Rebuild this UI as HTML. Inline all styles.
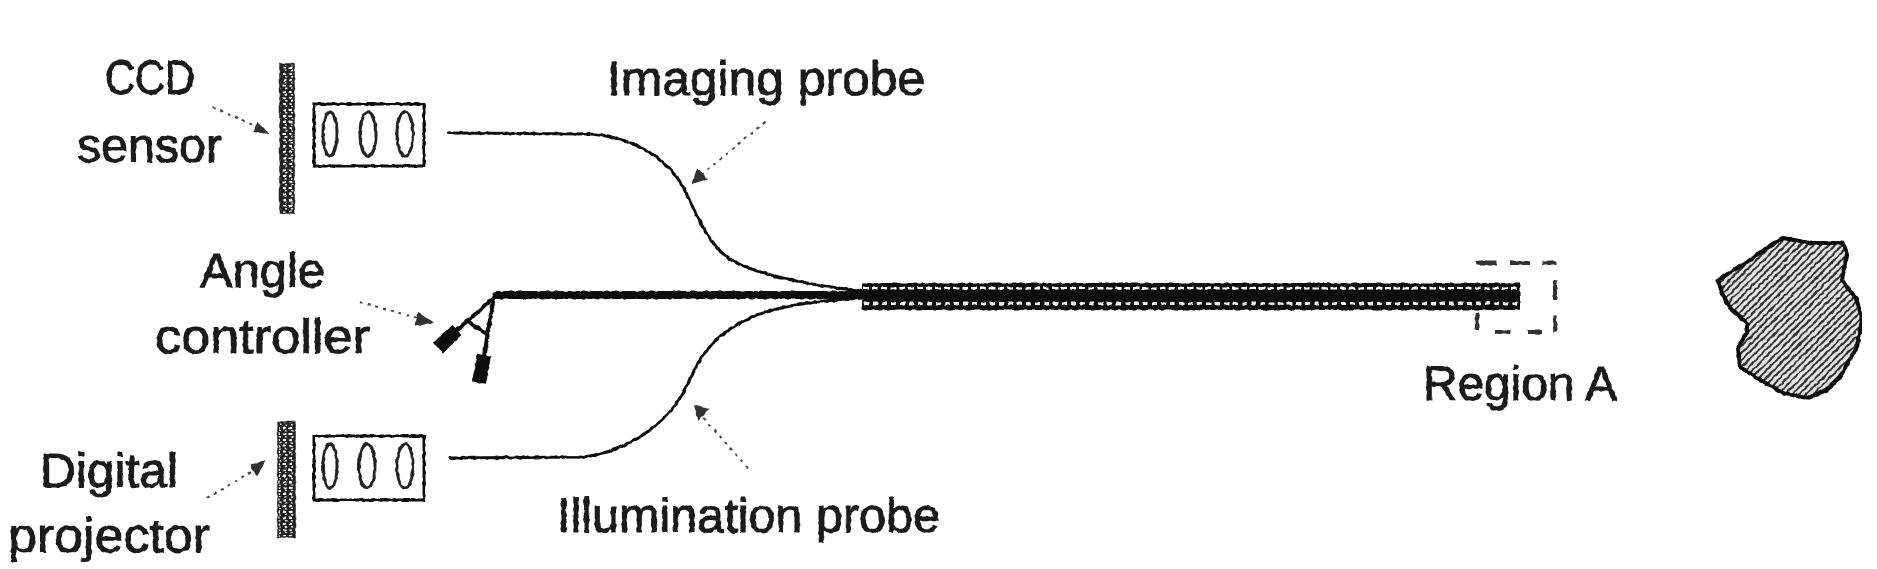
<!DOCTYPE html>
<html><head><meta charset="utf-8"><style>
html,body{margin:0;padding:0;background:#fff}
svg{display:block}
text{font-family:"Liberation Sans",sans-serif;font-size:48px;fill:#1a1a1a;stroke:#1a1a1a;stroke-width:.9}
.l{fill:none;stroke:#111;stroke-linejoin:round;stroke-linecap:round}
.d{fill:none;stroke:#444;stroke-width:2;stroke-dasharray:3 5}
.r{fill:none;stroke:#333;stroke-width:4}
</style></head><body>
<svg width="1877" height="569" viewBox="0 0 1877 569" xmlns="http://www.w3.org/2000/svg">
<defs>
<filter id="w" x="0" y="0" width="100%" height="100%"><feTurbulence type="fractalNoise" baseFrequency="0.22" numOctaves="1" seed="4" result="n"/><feDisplacementMap in="SourceGraphic" in2="n" scale="3" xChannelSelector="R" yChannelSelector="G"/></filter>
<pattern id="h1" width="6" height="6" patternUnits="userSpaceOnUse"><rect width="6" height="6" fill="#222"/><rect x="1" y="1" width="3" height="2" fill="#fff"/><rect x="3" y="4" width="2" height="1.5" fill="#ddd"/></pattern>
<pattern id="h2" width="5" height="5" patternUnits="userSpaceOnUse" patternTransform="rotate(45)"><rect width="5" height="5" fill="#e4e4e4"/><rect width="2" height="5" fill="#333"/></pattern>
<pattern id="b" width="9" height="27" patternUnits="userSpaceOnUse" x="862" y="283"><rect width="9" height="27" fill="#111"/><rect x="1" y="4" width="6" height="2.5" fill="#fff"/><rect x="2" y="19" width="5" height="3" fill="#eee"/></pattern>
</defs>
<g filter="url(#w)">
<text x="105" y="94" textLength="90" lengthAdjust="spacingAndGlyphs">CCD</text>
<text x="77" y="162" textLength="145" lengthAdjust="spacingAndGlyphs">sensor</text>
<text x="200" y="287" textLength="125" lengthAdjust="spacingAndGlyphs">Angle</text>
<text x="155" y="353" textLength="215" lengthAdjust="spacingAndGlyphs">controller</text>
<text x="40" y="487" textLength="138" lengthAdjust="spacingAndGlyphs">Digital</text>
<text x="8" y="552" textLength="202" lengthAdjust="spacingAndGlyphs">projector</text>
<text x="607" y="95" textLength="318" lengthAdjust="spacingAndGlyphs">Imaging probe</text>
<text x="557" y="532" textLength="383" lengthAdjust="spacingAndGlyphs">Illumination probe</text>
<text x="1423" y="400" textLength="194" lengthAdjust="spacingAndGlyphs">Region A</text>

<rect x="280" y="64" width="14" height="149" fill="url(#h1)" stroke="#222" stroke-width="1.5"/>
<rect x="278" y="422" width="17" height="115" fill="url(#h1)" stroke="#222" stroke-width="1.5"/>

<rect x="314" y="104" width="110" height="62" fill="#fff" stroke="#111" stroke-width="3"/>
<ellipse cx="330" cy="134" rx="7" ry="22" fill="none" stroke="#222" stroke-width="3"/>
<ellipse cx="368" cy="134" rx="8" ry="22" fill="none" stroke="#222" stroke-width="3"/>
<ellipse cx="405" cy="134" rx="8" ry="22" fill="none" stroke="#222" stroke-width="3"/>

<rect x="314" y="436" width="110" height="64" fill="#fff" stroke="#111" stroke-width="3"/>
<ellipse cx="330" cy="466" rx="7" ry="22" fill="none" stroke="#222" stroke-width="3"/>
<ellipse cx="367" cy="466" rx="8" ry="22" fill="none" stroke="#222" stroke-width="3"/>
<ellipse cx="405" cy="466" rx="8" ry="22" fill="none" stroke="#222" stroke-width="3"/>

<path class="l" stroke-width="3" d="M449 133 L590 134 C630 137 665 155 683 187 C695 210 705 240 727 257 C745 270 790 283 862 291"/>
<path class="l" stroke-width="3" d="M450 458 L583 457 C620 452 650 435 673 408 C685 393 690 378 697 365 C708 345 725 328 757 315 C785 305 815 301 862 298"/>

<path class="l" stroke-width="8" d="M497 295 L862 295"/>
<rect x="862" y="283" width="658" height="27" fill="url(#b)"/>
<rect x="862" y="293" width="658" height="8" fill="#111"/>

<path class="l" stroke-width="4" d="M497 295 L440 345 M493 302 L480 380 M470 323 L486 333"/>
<path stroke="#111" fill="none" stroke-width="14" d="M457 330 L438 348"/>
<path stroke="#111" fill="none" stroke-width="14" d="M484 355 L479 383"/>

<path class="r" d="M1476 263 H1497 M1510 263 H1530 M1542 263 H1556 M1555 280 V300 M1555 315 V332 M1495 332 H1510 M1528 332 H1542 M1477 313 V330"/>

<path d="M1718 280 L1747 262 L1767 248 L1783 238 L1810 243 L1843 243 L1847 253 L1842 280 L1857 300 L1862 320 L1857 347 L1840 377 L1827 390 L1807 398 L1783 393 L1757 378 L1740 367 L1738 347 L1747 333 L1747 323 L1730 308 L1722 293 Z" fill="url(#h2)" stroke="#111" stroke-width="4" stroke-linejoin="round"/>

<path class="d" d="M213 107 L262 129"/><path d="M257 122 L270 134 L253 132 Z" fill="#333"/>
<path class="d" d="M360 302 L425 320"/><path d="M418 312 L434 323 L415 326 Z" fill="#333"/>
<path class="d" d="M207 498 L258 468"/><path d="M250 465 L266 460 L257 477 Z" fill="#333"/>
<path class="d" d="M765 122 L700 176"/><path d="M697 168 L692 184 L708 179 Z" fill="#333"/>
<path class="d" d="M748 468 L702 416"/><path d="M694 405 L710 409 L698 421 Z" fill="#333"/>
</g>
</svg>
</body></html>
